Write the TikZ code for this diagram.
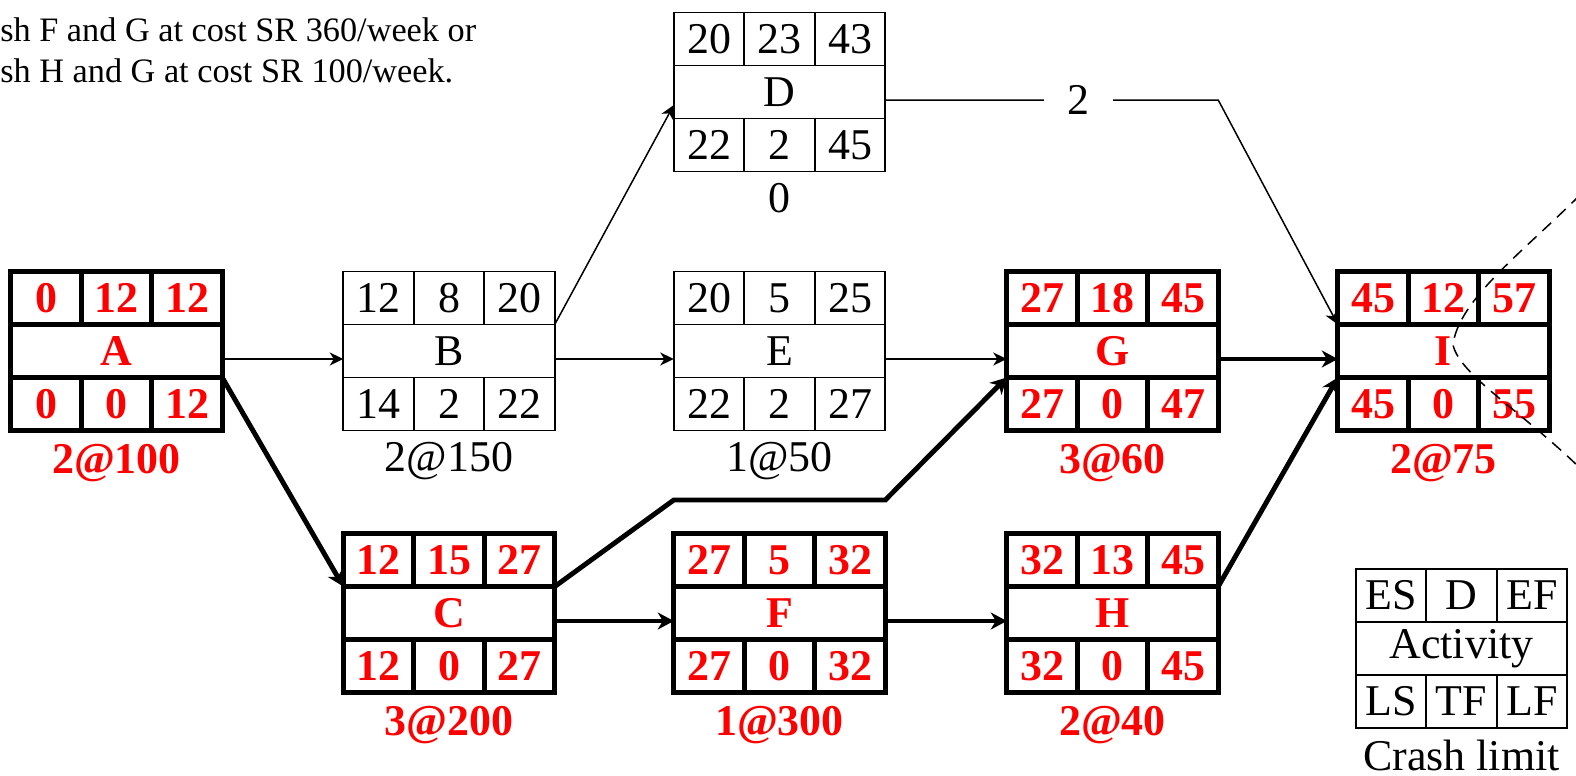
\documentclass[tikz,border=0pt]{standalone}
\usepackage{fontspec}
\setmainfont{Liberation Serif}
\usetikzlibrary{arrows.meta,positioning,calc}
\definecolor{cCrit}{HTML}{FF0000}
\definecolor{cInk}{HTML}{000000}
\tikzset{
  cell/.style={draw=cInk, minimum width=1.41cm, minimum height=1.06cm,
               inner sep=0pt, outer sep=0pt, font=\fontsize{25}{30}\selectfont},
  mid/.style={cell, minimum width=4.23cm},
  norm/.style={line width=1.1pt, text=cInk},
  crit/.style={line width=2.9pt, text=cCrit, font=\fontsize{25}{30}\selectfont\bfseries},
  limit/.style={inner sep=0pt, font=\fontsize{25}{30}\selectfont},
  note/.style={inner sep=0pt, align=left, text=cInk, font=\fontsize{19.5}{23.8}\selectfont},
  flow/.style={-{Stealth[length=0.27cm,width=0.26cm,inset=0.08cm]}, line width=0.85pt, draw=cInk},
  cflow/.style={-{Stealth[length=0.32cm,width=0.34cm,inset=0.1cm]}, line width=2.8pt, draw=cInk},
  cut/.style={line width=0.85pt, dash pattern=on 0.24cm off 0.16cm, draw=cInk},
}
% activity box: look, name, label, centre of middle row, top row, bottom row, crash limit
\newcommand{\actbox}[7]{%
  \node[mid, #1] (#2) at (#4) {#3};
  \foreach \v [count=\i] in {#5}
    \node[cell, #1, anchor=south west] (#2-t\i) at ($(#2.north west)+({(\i-1)*70.5},0)$) {\v};
  \foreach \v [count=\i] in {#6}
    \node[cell, #1, anchor=north west] (#2-b\i) at ($(#2.south west)+({(\i-1)*70.5},0)$) {\v};
  \node[limit, #1, below=0.22cm of #2-b2] (#2-cr) {#7};
}

\begin{document}
\begin{tikzpicture}[x=0.02cm,y=-0.02cm]
\useasboundingbox (0,0) rectangle (1576,775);

\node[note, anchor=north west] (txt) at (0,17)
  {sh F and G at cost SR 360/week or\\sh H and G at cost SR 100/week.};

% ------------------------------------------------------------ activities
\actbox{crit}{A}{A}{116.5,351}{0,12,12}{0,0,12}{2@100}
\actbox{norm}{B}{B}{449,351}{12,8,20}{14,2,22}{2@150}
\actbox{norm}{D}{D}{779.5,92}{20,23,43}{22,2,45}{0}
\actbox{norm}{E}{E}{779.5,351}{20,5,25}{22,2,27}{1@50}
\actbox{crit}{G}{G}{1112.5,351}{27,18,45}{27,0,47}{3@60}
\actbox{crit}{I}{I}{1443.5,351}{45,12,57}{45,0,55}{2@75}
\actbox{crit}{C}{C}{449,613}{12,15,27}{12,0,27}{3@200}
\actbox{crit}{F}{F}{779.5,613}{27,5,32}{27,0,32}{1@300}
\actbox{crit}{H}{H}{1112.5,613}{32,13,45}{32,0,45}{2@40}

% legend
\actbox{norm}{key}{Activity}{1461.5,648.5}{ES,D,EF}{LS,TF,LF}{Crash limit}

% ------------------------------------------------------------ links
\draw[flow] ([yshift=-0.16cm]A.east) -- ([yshift=-0.16cm]B.west);
\draw[flow] (B.north east) -- ([yshift=-0.26cm]D.west);
\draw[flow] ([yshift=-0.16cm]B.east) -- ([yshift=-0.16cm]E.west);
\draw[flow] ([yshift=-0.16cm]E.east) -- ([yshift=-0.16cm]G.west);

\coordinate (Dbend) at ([yshift=-0.16cm]D.east -| G.east);
\draw[flow] ([yshift=-0.16cm]D.east)
      -- node[pos=0.58, limit, fill=white, inner xsep=0.47cm] (Dslack) {2}
      (Dbend) -- (I.north west);

% critical path
\draw[cflow] (A.south east) -- (C.north west);
\coordinate (cgA) at ([yshift=0.67cm]F-t1.north west);
\coordinate (cgB) at ([yshift=0.67cm]F-t3.north east);
\draw[cflow] (C.north east) -- (cgA) -- (cgB) -- (G.south west);
\draw[cflow] ([yshift=-0.16cm]C.east) -- ([yshift=-0.16cm]F.west);
\draw[cflow] ([yshift=-0.16cm]F.east) -- ([yshift=-0.16cm]H.west);
\draw[cflow] ([yshift=-0.16cm]G.east) -- ([yshift=-0.16cm]I.west);
\draw[cflow] (H.north east) -- (I.south west);

% cut line
\draw[cut] (1580,195) .. controls (1525,250) and (1458,300) .. (1453,345)
      .. controls (1460,375) and (1520,410) .. (1580,468);

\end{tikzpicture}
\end{document}
